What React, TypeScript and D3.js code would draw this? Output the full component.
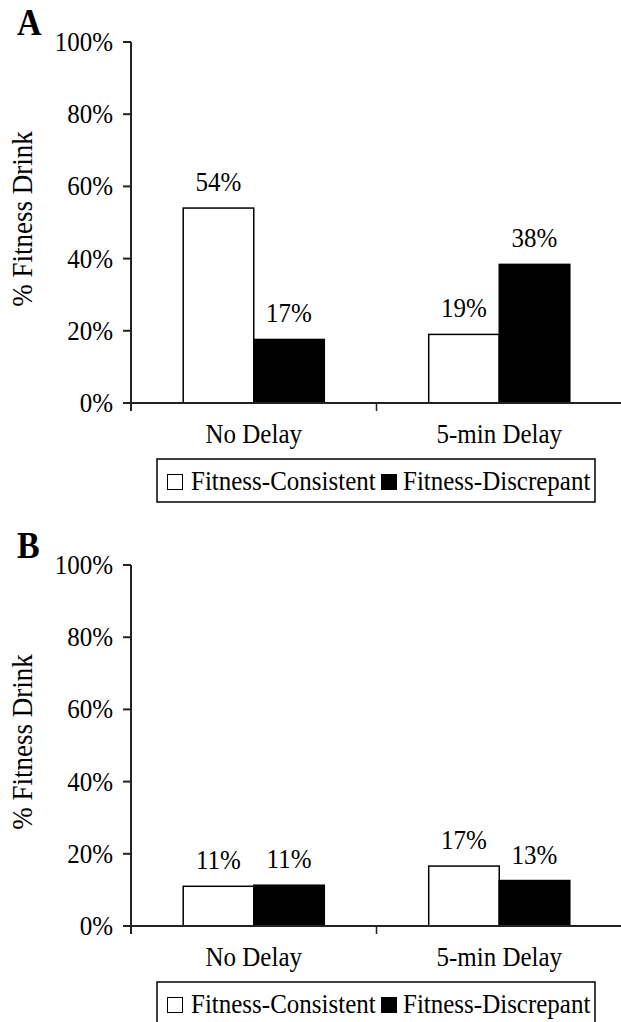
import React from 'react'
import { scaleBand, scaleLinear } from 'd3'

const categories = ['No Delay', '5-min Delay']
const series = ['Fitness-Consistent', 'Fitness-Discrepant']
const yTicks = [0, 20, 40, 60, 80, 100]

// panel A: fitness drink choice, study 1
const panelAValues = [
    [54, 17.6],
    [19, 38.4],
]
const panelALabels = [
    ['54%', '17%'],
    ['19%', '38%'],
]

// panel B
const panelBValues = [
    [11, 11.3],
    [16.6, 12.6],
]
const panelBLabels = [
    ['11%', '11%'],
    ['17%', '13%'],
]

const font = '"Liberation Serif", "Times New Roman", serif'
const fills = ['#ffffff', '#000000']

// the original figure is a bit taller than wide, so text is stretched slightly
const T = ({ x, y, size = 25, anchor = 'start', children, ...rest }) => (
    <text
        transform={`translate(${x}, ${y}) scale(1, 1.12)`}
        textAnchor={anchor}
        fontSize={size}
        {...rest}
    >{children}</text>
)

const Panel = ({ top, letter, values, labels }) => {
    const x0 = scaleBand().domain(categories).range([131, 622]).padding(0)
    const x1 = scaleBand().domain(series).range([0, x0.bandwidth()]).paddingOuter(0.74).paddingInner(0)
    const y = scaleLinear().domain([0, 100]).range([top + 361, top])
    const base = y(0)

    return (
        <g fontFamily={font} fill="#000">
            <T x={17} y={top - 7} size={34} fontWeight="bold">{letter}</T>

            <text
                transform={`translate(32, ${top + 177}) rotate(-90) scale(1.04, 1.1)`}
                textAnchor="middle"
                fontSize={26}
            >% Fitness Drink</text>

            {categories.map((c, i) => (
                <g key={c}>
                    {series.map((s, j) => {
                        const bx = x0(c) + x1(s)
                        const by = y(values[i][j])
                        return (
                            <g key={s}>
                                <rect
                                    x={bx}
                                    y={by}
                                    width={x1.bandwidth()}
                                    height={base - by}
                                    fill={fills[j]}
                                    stroke="#000"
                                    strokeWidth={1.5}
                                />
                                <T x={bx + x1.bandwidth() / 2} y={by - 17} anchor="middle">
                                    {labels[i][j]}
                                </T>
                            </g>
                        )
                    })}
                    <T x={x0(c) + x0.bandwidth() / 2} y={base + 40} anchor="middle">{c}</T>
                </g>
            ))}

            {/* y axis */}
            <line x1={131} x2={131} y1={y(100)} y2={base + 8} stroke="#222" strokeWidth={2} />
            {yTicks.map(t => (
                <g key={t}>
                    <line x1={123} x2={131} y1={y(t)} y2={y(t)} stroke="#222" strokeWidth={2} />
                    <T x={113} y={y(t) + 9} anchor="end">{t}%</T>
                </g>
            ))}

            {/* x axis */}
            <line x1={123} x2={625} y1={base} y2={base} stroke="#222" strokeWidth={2} />
            {categories.map((c, i) => (
                <line
                    key={c}
                    x1={x0(c) + x0.bandwidth()}
                    x2={x0(c) + x0.bandwidth()}
                    y1={base}
                    y2={base + 8}
                    stroke="#222"
                    strokeWidth={i === 0 ? 1.5 : 2}
                />
            ))}

            {/* legend */}
            <rect x={157} y={base + 56} width={438} height={43} fill="none" stroke="#000" strokeWidth={1.5} />
            <rect x={167.5} y={base + 71.5} width={15} height={15} fill="#fff" stroke="#000" strokeWidth={1} />
            <T x={191} y={base + 87}>{series[0]}</T>
            <rect x={381} y={base + 71} width={16} height={16} fill="#000" />
            <T x={403} y={base + 87}>{series[1]}</T>
        </g>
    )
}

const App = () => {
    return (
        <svg
            width={621}
            height={1022}
            style={{ position: 'absolute', left: 0, top: 0, background: '#fff' }}
        >
            <Panel top={42} letter="A" values={panelAValues} labels={panelALabels} />
            <Panel top={565} letter="B" values={panelBValues} labels={panelBLabels} />
        </svg>
    )
}

export default App
